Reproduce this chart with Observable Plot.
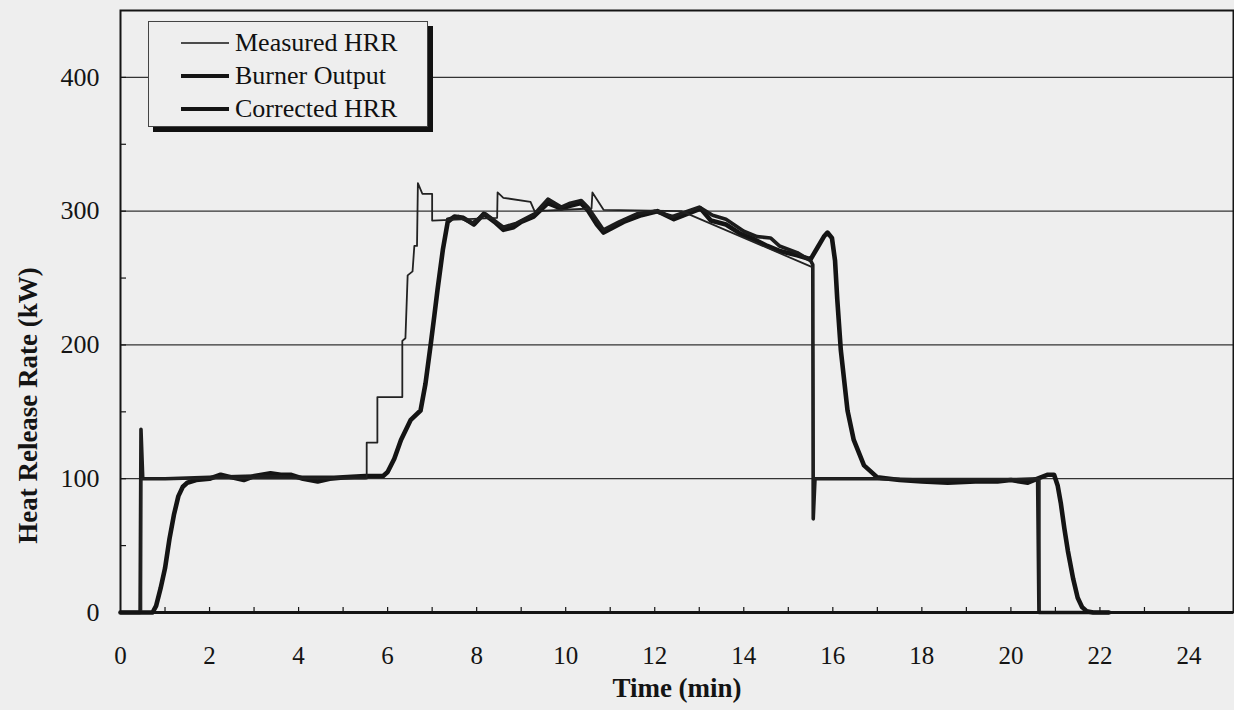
<!DOCTYPE html>
<html>
<head>
<meta charset="utf-8">
<script src="https://cdn.jsdelivr.net/npm/d3@7"></script>
<script src="https://cdn.jsdelivr.net/npm/@observablehq/plot@0.6"></script>
<style>
  html, body { margin: 0; padding: 0; background: #eeeeee; }
  #wrap { position: relative; width: 1234px; height: 710px; background: #eeeeee; overflow: hidden; font-family: "Liberation Serif", "Times New Roman", serif; }
  #legend { position: absolute; left: 148px; top: 21px; width: 278px; height: 104px; border: 1px solid #444; background: #eeeeee; box-shadow: 5px 5px 0 #111; }
  .row { position: absolute; left: 0; height: 30px; width: 278px; }
  .row svg { position: absolute; left: 31px; top: 0; }
  .row span { position: absolute; left: 86px; top: 0; line-height: 30px; font-size: 26px; color: #111; white-space: nowrap; }
</style>
</head>
<body>
<div id="wrap">
  <div id="chart"></div>
  <div id="legend"></div>
</div>
<script>
// ---- Data ----
const xTicks = [0, 2, 4, 6, 8, 10, 12, 14, 16, 18, 20, 22, 24];
const xMinor = [1,2,3,4,5,6,7,8,9,10,11,12,13,14,15,16,17,18,19,20,21,22,23,24];
const yTicks = [0, 100, 200, 300, 400];
const yGrid = [100, 200, 300, 400];
const yMinor = [50, 100, 150, 200, 250, 300, 350, 400];

const seriesNames = ["Measured HRR", "Burner Output", "Corrected HRR"];

// Thin stepped trace
const measuredT = [0, 0.47, 0.47, 5.53, 5.53, 5.77, 5.77, 6.33, 6.33, 6.4, 6.45, 6.56, 6.6, 6.66, 6.68, 6.78, 7.0, 7.0, 8.46, 8.47, 8.6, 9.21, 9.3, 10.58, 10.6, 10.85, 12.6, 15.55, 15.57, 20.65, 20.65, 22.2];
const measuredV = [0, 0, 100, 100, 127, 127, 161, 161, 203, 205, 252, 255, 274, 274, 321, 313, 313, 293, 295, 314, 310, 307, 300, 302, 314, 301, 300, 258, 100, 100, 0, 0];

// Thick fast trace with spikes (null = gap)
const burnerT = [0, 0.44, 0.46, 0.5, 1.0, 2.0, 3.0, 4.0, 5.0, 5.5, 5.6,
  7.35, 7.6, 7.9, 8.2, 8.6, 8.9, 9.3, 9.6, 9.9, 10.1, 10.35, 10.5, 10.85, 11.2, 11.6, 12.0, 12.4, 13.0, 13.3, 13.6, 14.0, 14.3, 14.6, 14.8, 15.2, 15.5, 15.55, 15.56, 15.6, 16.5, 17.0, 18.0, 19.0, 20.0, 20.6, 20.63, 22.2];
const burnerV = [0, 0, 137, 100, 100, 101, 102, 101, 101, 101, null,
  294, 296, 291, 298, 288, 291, 298, 309, 303, 306, 308, 303, 286, 292, 298, 300, 296, 303, 297, 294, 285, 281, 280, 274, 269, 263, 260, 70, 100, 100, 100, 99, 99, 99, 100, 0, 0];

// Thick smooth lagged trace
const correctedT = [0, 0.72, 0.8, 0.9, 1.0, 1.1, 1.2, 1.3, 1.4, 1.5, 1.7, 2.0, 2.25, 2.5, 2.77, 3.0, 3.37, 3.6, 3.82, 4.1, 4.43, 4.7, 5.0, 5.5, 5.9, 6.0, 6.15, 6.3, 6.52, 6.74, 6.85, 6.97, 7.05, 7.12, 7.24, 7.35, 7.5, 7.7, 7.94, 8.16, 8.4, 8.6, 8.83, 9.0, 9.28, 9.6, 9.89, 10.1, 10.34, 10.49, 10.7, 10.85, 11.3, 11.7, 12.06, 12.43, 13.03, 13.26, 13.6, 13.93, 14.23, 14.53, 14.83, 15.2, 15.5, 15.66, 15.8, 15.88, 15.98, 16.05, 16.1, 16.18, 16.33, 16.47, 16.7, 17.0, 17.5, 18.0, 18.58, 19.2, 19.7, 20.0, 20.38, 20.6, 20.83, 20.97, 21.05, 21.12, 21.2, 21.28, 21.4, 21.5, 21.6, 21.7, 21.85, 22.2];
const correctedV = [0, 0, 5, 18, 33, 55, 73, 87, 94, 97, 99, 100, 103, 101, 99, 102, 104, 103, 103, 100, 98, 100, 101, 102, 102, 105, 115, 129, 144, 151, 171, 201, 222, 241, 271, 292, 296, 295, 290, 298, 292, 286, 288, 292, 296, 306, 302, 304, 306, 301, 290, 284, 292, 297, 300, 294, 302, 293, 290, 283, 279, 274, 270, 267, 264, 273, 281, 284, 280, 263, 234, 196, 151, 129, 110, 101, 99, 98, 97, 98, 98, 99, 97, 100, 103, 103, 95, 82, 63, 46, 25, 11, 4, 1, 0, 0];

// ---- Build rows ----
const toRows = (T, V) => T.map((t, i) => ({t, v: V[i]}));
const measured = toRows(measuredT, measuredV);
const burner = toRows(burnerT, burnerV);
const corrected = toRows(correctedT, correctedV);

const ink = "#141414";

const chart = Plot.plot({
  width: 1234,
  height: 710,
  marginLeft: 120,
  marginRight: 1,
  marginTop: 10,
  marginBottom: 98,
  style: {background: "transparent", fontFamily: "'Liberation Serif', 'Times New Roman', serif", color: ink},
  x: {domain: [0, 25]},
  y: {domain: [0, 450]},
  marks: [
    Plot.gridY(yGrid, {stroke: "#333", strokeOpacity: 1, strokeWidth: 1.2}),
    Plot.tickX(xMinor, {x: d => d, insetTop: 597, stroke: ink, strokeWidth: 1.2}),
    Plot.tickY(yMinor, {y: d => d, insetRight: 1107, stroke: ink, strokeWidth: 1.2}),
    Plot.axisX({ticks: xTicks, tickSize: 0, tickPadding: 34, fontSize: 25, tickFormat: d => String(d), label: null}),
    Plot.axisY({ticks: yTicks, tickSize: 0, tickPadding: 21, fontSize: 26, tickFormat: d => String(d), label: null}),
    Plot.line(corrected, {x: "t", y: "v", stroke: ink, strokeWidth: 4.6}),
    Plot.line(burner, {x: "t", y: "v", stroke: "#1c1c1c", strokeWidth: 3.6}),
    Plot.line(measured, {x: "t", y: "v", stroke: "#222", strokeWidth: 1.8}),
    Plot.ruleY([0], {stroke: ink, strokeWidth: 3.2}),
    Plot.frame({stroke: ink, strokeWidth: 2}),
    Plot.text(["Time (min)"], {text: d => d, frameAnchor: "bottom", textAnchor: "middle", dy: 84, fontSize: 27, fontWeight: "bold", fill: ink}),
    Plot.text(["Heat Release Rate (kW)"], {text: d => d, frameAnchor: "left", textAnchor: "middle", rotate: -90, dx: -92, dy: 94, fontSize: 27, fontWeight: "bold", fill: ink})
  ]
});
document.getElementById("chart").appendChild(chart);

// ---- Legend ----
const legendStyles = [
  {name: seriesNames[0], w: 1.6},
  {name: seriesNames[1], w: 4},
  {name: seriesNames[2], w: 4}
];
const rowTops = [6, 39, 72];
const legend = document.getElementById("legend");
legendStyles.forEach((s, i) => {
  const row = document.createElement("div");
  row.className = "row";
  row.style.top = rowTops[i] + "px";
  row.innerHTML = `<svg width="50" height="30"><line x1="1" x2="49" y1="15" y2="15" stroke="${ink}" stroke-width="${s.w}"/></svg><span>${s.name}</span>`;
  legend.appendChild(row);
});
</script>
</body>
</html>
